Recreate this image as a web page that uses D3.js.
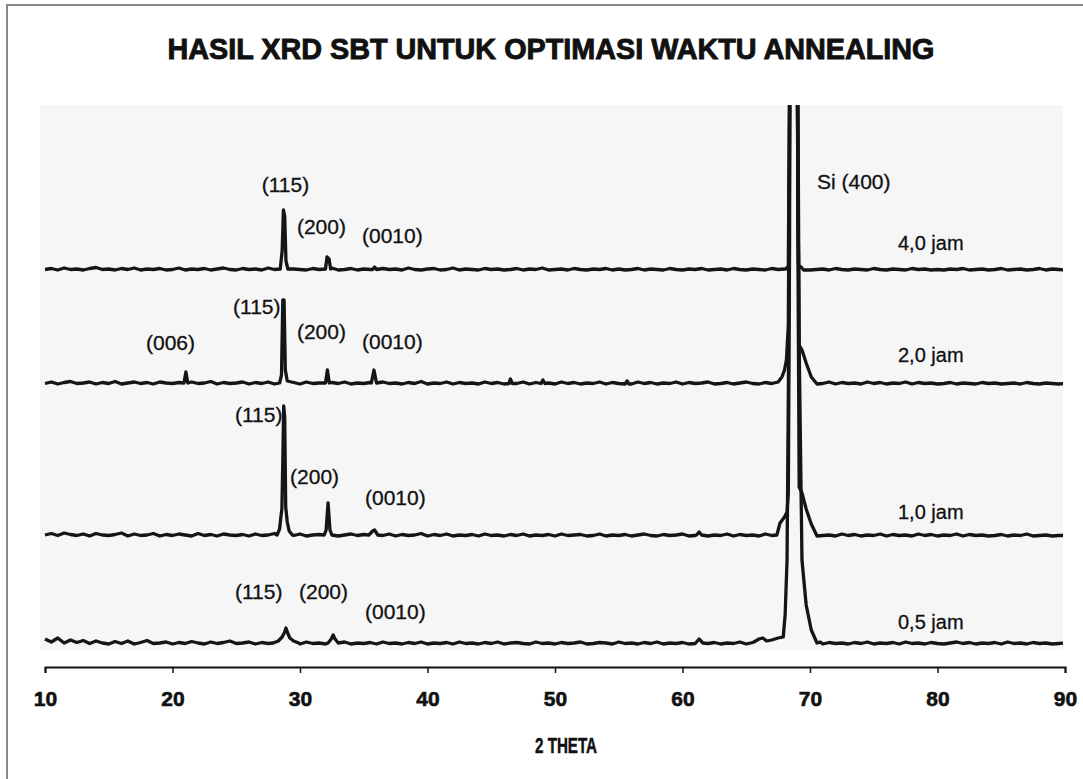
<!DOCTYPE html>
<html>
<head>
<meta charset="utf-8">
<script src="https://cdn.jsdelivr.net/npm/d3@7"></script>
<style>
body { margin: 0; background: #fff; }
text { font-family: Arial, "Liberation Sans", sans-serif; fill: #111; }
</style>
</head>
<body>
<div id="chart"></div>
<script>
// x grid of the baseline noise (2 theta, degrees)
var thetaStart = 10, thetaStep = 0.5;
var xTicks = [10, 20, 30, 40, 50, 60, 70, 80, 90];
var seriesNames = ["0,5 jam", "1,0 jam", "2,0 jam", "4,0 jam"];
// vertical offset of each pattern (counts)
var offsets = [10, 226, 530, 758];

// baseline noise, one value every 0.5 deg from 10 to 90 (counts above baseline)
var noise05 = [12,6,14,4,10,5,9,3,8,4, 2,7,3,8,2,5,9,3,4,6, 2,5,3,7,4,2,6,3,5,8, 3,4,6,2,5,3,4,6,3,5,
  2,6,3,4,2,5,3,6,2,4, 3,5,2,6,3,4,2,5,3,6, 2,4,3,5,2,6,3,4,2,5, 3,6,2,4,5,3,2,6,3,4,
  2,5,3,4,6,2,3,5,4,2, 6,3,4,2,5,3,6,2,4,3, 5,2,4,6,3,5,2,4,3,6, 2,5,3,4,2,6,3,5,2,4,
  3,6,2,5,3,4,2,5,3,6, 2,4,3,5,2,6,3,4,2,5, 3,2,4,6,3,5,2,4,3,5, 2,6,3,4,2,5,3,4,2,3, 4];
var noise10 = [4,7,3,8,5,3,6,2,7,4, 3,5,8,2,6,3,4,7,2,5, 3,6,4,2,7,3,5,2,6,4, 3,5,2,6,3,4,7,2,5,3,
  6,2,4,5,3,7,2,4,6,3, 5,2,4,3,6,2,5,3,4,7, 2,5,3,6,2,4,3,5,2,6, 3,4,2,5,3,6,2,4,3,5,
  2,6,3,4,5,2,3,6,2,4, 3,5,2,4,6,3,2,5,3,4, 6,2,3,5,2,4,3,6,2,5, 3,4,2,6,3,5,2,4,3,6,
  2,5,3,4,2,6,3,5,2,4, 3,6,2,5,3,4,2,6,3,5, 2,4,3,6,2,5,3,4,2,3, 5,2,4,3,6,2,3,4,2,3, 3];
var noise20 = [3,6,2,5,7,3,4,6,2,5, 3,7,2,4,6,3,5,2,6,4, 3,5,2,6,3,4,7,2,5,3, 4,6,2,5,3,6,2,4,3,5,
  2,6,3,4,2,5,3,6,2,4, 3,5,2,6,3,4,2,5,3,7, 2,4,3,6,2,5,3,4,2,6, 3,5,2,4,3,6,2,5,3,4,
  2,6,3,5,2,4,3,6,2,5, 3,4,2,6,3,5,2,4,3,6, 2,5,3,4,6,2,3,5,2,4, 6,3,2,5,3,4,2,6,3,5,
  2,4,3,6,2,5,3,4,2,6, 3,5,2,4,3,6,2,5,3,4, 2,3,5,2,4,3,2,5,3,4, 2,3,4,2,5,3,2,4,3,2, 3];
var noise40 = [3,5,2,6,3,4,2,5,7,3, 4,2,5,3,6,2,4,3,5,2, 3,6,2,4,3,5,2,4,6,3, 2,5,3,4,2,6,3,5,2,4,
  3,2,5,3,4,6,2,3,5,2, 4,3,2,5,3,4,2,6,3,2, 4,5,2,3,6,2,4,3,2,5, 3,4,2,3,5,2,4,3,6,2,
  3,4,2,5,3,2,4,3,5,2, 4,2,3,5,2,4,3,2,5,3, 2,4,3,5,2,3,4,2,5,3, 2,4,3,2,5,3,4,2,3,5,
  2,3,4,2,5,3,2,4,3,2, 5,3,2,4,3,2,5,3,4,2, 3,2,4,3,5,2,3,4,2,3, 5,2,3,4,2,3,5,2,4,3, 2];

// peaks: groups of [2 theta, counts above baseline]
var peaks05 = [
  [[27.9,4],[28.3,8],[28.6,16],[28.8,26],[28.9,34],[29.0,26],[29.2,14],[29.5,8],[29.9,4]],
  [[32.2,4],[32.45,12],[32.6,20],[32.75,12],[33.0,4]],
  [[61.0,3],[61.3,12],[61.6,4]],
  [[65.6,6],[66.0,12],[66.3,14],[66.6,8],[67.0,10],[67.5,14],[67.9,16],[68.05,60],[68.2,170],[68.3,500],
   [68.43,1100],[68.5,2200],[68.9,2200],[69.0,1100],[69.15,600],[69.37,170],[69.7,80],[70.1,30],[70.55,4],[70.8,6]]
];
var peaks10 = [
  [[28.2,4],[28.4,16],[28.5,40],[28.58,56],[28.65,150],[28.72,262],[28.8,240],[28.88,60],[29.0,30],[29.15,12],[29.4,4]],
  [[31.9,4],[32.05,14],[32.2,68],[32.35,14],[32.5,4]],
  [[35.4,4],[35.7,12],[35.85,14],[36.1,4]],
  [[61.1,4],[61.3,10],[61.5,4]],
  [[67.4,4],[67.65,28],[68.0,40],[68.2,50],[68.3,88],[68.4,600],[68.45,2200],[68.95,2200],[69.05,600],
   [69.15,100],[69.37,88],[69.7,56],[70.1,26],[70.55,2]]
];
var peaks20 = [
  [[20.9,4],[21.05,26],[21.2,4]],
  [[28.4,4],[28.55,20],[28.65,170],[28.75,170],[28.85,30],[29.0,8]],
  [[32.0,4],[32.15,30],[32.3,4]],
  [[35.6,4],[35.8,30],[36.0,4]],
  [[46.4,3],[46.5,12],[46.65,3]],
  [[48.9,3],[49.05,10],[49.2,3]],
  [[55.5,2],[55.65,8],[55.8,2]],
  [[67.5,6],[67.8,16],[68.0,30],[68.15,50],[68.3,120],[68.4,600],[68.45,2200],[68.95,2200],[69.05,600],
   [69.15,80],[69.37,70],[69.7,44],[70.1,16],[70.55,2]]
];
var peaks40 = [
  [[28.45,4],[28.6,40],[28.7,122],[28.8,110],[28.9,20],[29.05,4]],
  [[32.0,4],[32.12,28],[32.28,24],[32.4,4]],
  [[35.7,3],[35.85,8],[36.0,3]],
  [[68.1,4],[68.3,10],[68.4,400],[68.45,2200],[68.95,2200],[69.0,400],[69.1,12],[69.3,8],[69.5,2]]
];

// peak labels: [text, 2 theta, counts] (anchor at left middle of the text)
var peakLabels = [
  ["(115)", 27.0, 930], ["(200)", 29.76, 846], ["(0010)", 34.86, 828], ["Si (400)", 70.55, 936],
  ["(006)", 17.92, 614], ["(115)", 24.75, 686], ["(200)", 29.76, 636], ["(0010)", 34.86, 616],
  ["(115)", 24.9, 470], ["(200)", 29.22, 346], ["(0010)", 35.1, 304],
  ["(115)", 24.9, 116], ["(200)", 29.92, 116], ["(0010)", 35.1, 76]
];
var nameTheta = 76.9;
var nameCounts = [56, 276, 590, 814];

var width = 1083, height = 779;
var plot = {left: 40, top: 105, right: 1063, bottom: 650};

var svg = d3.select("#chart").append("svg")
  .attr("width", width)
  .attr("height", height);

svg.append("rect").attr("width", width).attr("height", height).attr("fill", "#fff");
// scanned frame
svg.append("rect")
  .attr("x", 7).attr("y", 5).attr("width", 1090).attr("height", 800)
  .attr("fill", "none").attr("stroke", "#8a8a8a").attr("stroke-width", 2);

svg.append("text")
  .attr("x", 551).attr("y", 59)
  .attr("text-anchor", "middle")
  .attr("font-size", 29).attr("font-weight", "bold")
  .attr("stroke", "#111").attr("stroke-width", 0.9)
  .attr("textLength", 767).attr("lengthAdjust", "spacingAndGlyphs")
  .text("HASIL XRD SBT UNTUK OPTIMASI WAKTU ANNEALING");

svg.append("rect")
  .attr("x", plot.left).attr("y", plot.top)
  .attr("width", plot.right - plot.left).attr("height", plot.bottom - plot.top)
  .attr("fill", "#f6f6f6");

svg.append("clipPath").attr("id", "clip")
  .append("rect")
  .attr("x", plot.left).attr("y", plot.top)
  .attr("width", plot.right - plot.left).attr("height", plot.bottom - plot.top);

var x = d3.scaleLinear().domain([10, 90]).range([45, 1065]);
var y = d3.scaleLinear().domain([0, 1090]).range([plot.bottom, plot.top]);

// merge noise and peak groups into one sorted pattern
function buildPattern(noise, peaks) {
  var pts = [];
  noise.forEach(function(v, i) {
    var t = thetaStart + i * thetaStep;
    var inPeak = peaks.some(function(g) { return t >= g[0][0] && t <= g[g.length - 1][0]; });
    if (!inPeak) pts.push([t, v]);
  });
  peaks.forEach(function(g) { g.forEach(function(p) { pts.push(p); }); });
  pts.sort(function(a, b) { return a[0] - b[0]; });
  return pts;
}

var patterns = [
  buildPattern(noise05, peaks05),
  buildPattern(noise10, peaks10),
  buildPattern(noise20, peaks20),
  buildPattern(noise40, peaks40)
];

var line = d3.line()
  .x(function(d) { return x(d[0]); })
  .y(function(d) { return y(d[1]); });

var g = svg.append("g").attr("clip-path", "url(#clip)");
patterns.forEach(function(p, i) {
  g.append("path")
    .datum(p.map(function(d) { return [d[0], d[1] + offsets[i]]; }))
    .attr("d", line)
    .attr("fill", "none")
    .attr("stroke", "#151515")
    .attr("stroke-width", 3.3)
    .attr("stroke-linejoin", "round");
});

// peak labels
svg.selectAll(".plab").data(peakLabels).enter()
  .append("text")
  .attr("class", "plab")
  .attr("x", function(d) { return x(d[1]); })
  .attr("y", function(d) { return y(d[2]); })
  .attr("dy", "0.35em")
  .attr("font-size", 21)
  .attr("stroke", "#111").attr("stroke-width", 0.3)
  .text(function(d) { return d[0]; });

svg.selectAll(".slab").data(seriesNames).enter()
  .append("text")
  .attr("class", "slab")
  .attr("x", x(nameTheta))
  .attr("y", function(d, i) { return y(nameCounts[i]); })
  .attr("dy", "0.35em")
  .attr("font-size", 20)
  .attr("stroke", "#111").attr("stroke-width", 0.3)
  .text(function(d) { return d; });

// x axis below the plot area
var axis = svg.append("g")
  .attr("transform", "translate(0,667)")
  .call(d3.axisBottom(x).tickValues(xTicks).tickSize(6).tickSizeOuter(6).tickPadding(18));
axis.select(".domain").attr("stroke", "#111").attr("stroke-width", 2);
axis.selectAll(".tick line").attr("stroke", "#111").attr("stroke-width", 1.5);
axis.selectAll(".tick text")
  .attr("font-size", 21).attr("font-weight", "bold")
  .attr("font-family", "Arial, 'Liberation Sans', sans-serif")
  .attr("stroke", "#111").attr("stroke-width", 0.6)
  .attr("fill", "#111");

svg.append("text")
  .attr("x", 566).attr("y", 753)
  .attr("text-anchor", "middle")
  .attr("font-size", 22).attr("font-weight", "bold")
  .attr("stroke", "#111").attr("stroke-width", 0.5)
  .attr("textLength", 62).attr("lengthAdjust", "spacingAndGlyphs")
  .text("2 THETA");
</script>
</body>
</html>
